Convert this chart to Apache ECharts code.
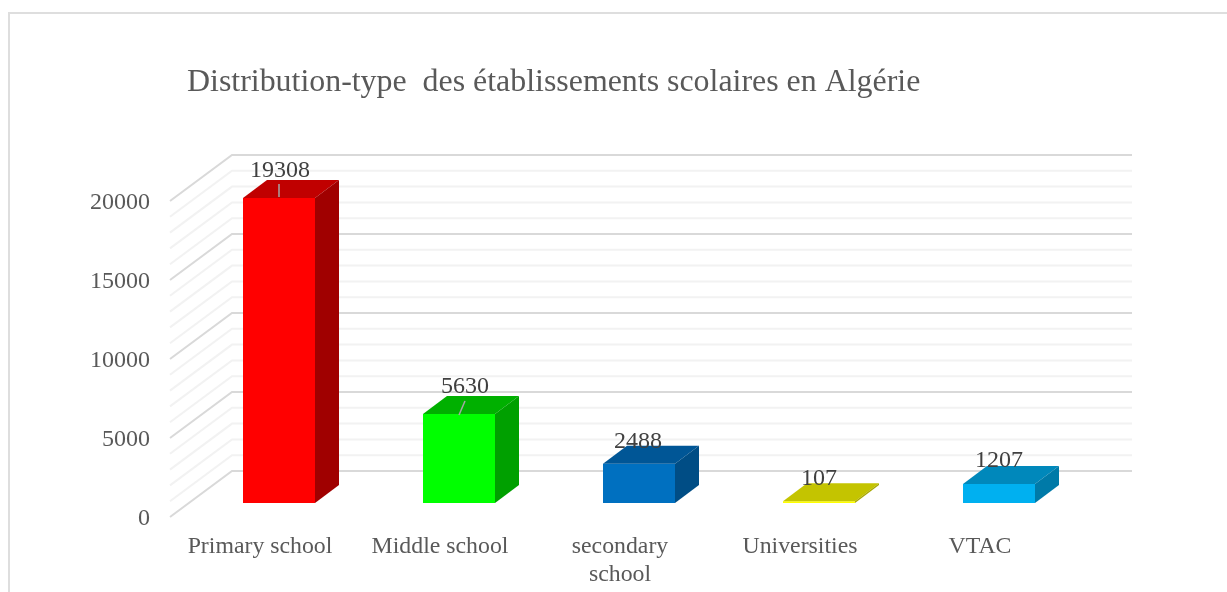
<!DOCTYPE html>
<html><head><meta charset="utf-8">
<style>html,body{margin:0;padding:0;background:#fff}#c{width:1227px;height:592px}</style>
<script src="https://cdn.jsdelivr.net/npm/echarts@6/dist/echarts.min.js"></script>
</head><body><div id="c"></div>
<script>
const categories = ['Primary school', 'Middle school', 'secondary\nschool', 'Universities', 'VTAC'];
const values = [19308, 5630, 2488, 107, 1207];
const gridValues = [0,1000,2000,3000,4000,5000,6000,7000,8000,9000,10000,11000,12000,13000,14000,15000,16000,17000,18000,19000,20000];
const frontColors = ['#ff0000','#00ff00','#0070c0','#ffff00','#00b0f0'];
const topColors = ['#c00000','#00b000','#005696','#c4c400','#0088bb'];
const sideColors = ['#a00000','#00a000','#004d85','#a8a800','#007aa8'];
const labelShift = [[1,-27],[6,-27],[-1,-22],[0,-23],[0,-23]];
const leaders = [[0,-1,0,-14],[0,1,6,-13],null,null,null];

const SERIF = '"Liberation Serif","Times New Roman",serif';
const WALL = {dx:62, dy:-46};
const FLOOR = {dx:19, dy:-14};
const BAR = {dx:24, dy:-18};

const chart = echarts.init(document.getElementById('c'), null, {renderer:'canvas'});
chart.setOption({
  animation:false,
  backgroundColor:'#fff',
  title:{text:'Distribution-type  des établissements scolaires en Algérie',left:187,top:67,padding:0,
    textStyle:{fontFamily:SERIF,fontSize:31.9,fontWeight:'normal',color:'#595959'}},
  graphic:[{type:'rect',shape:{x:9,y:13,width:1300,height:700},silent:true,
    style:{fill:'none',stroke:'#dedede',lineWidth:2}}],
  grid:{left:170,top:201,width:900,height:316},
  xAxis:{type:'category',data:categories,axisLine:{show:false},axisTick:{show:false},splitLine:{show:false},
    axisLabel:{fontFamily:SERIF,fontSize:23.8,color:'#595959',margin:16,lineHeight:28,interval:0}},
  yAxis:{type:'value',min:0,max:20000,interval:5000,axisLine:{show:false},axisTick:{show:false},splitLine:{show:false},
    axisLabel:{margin:20,formatter:v=>'{n|'+v+'}',
      rich:{n:{fontFamily:SERIF,fontSize:24,color:'#595959',padding:[4,0,0,0]}}}},
  series:[
    {type:'custom',silent:true,z:1,coordinateSystem:'cartesian2d',
     encode:{y:0},data:gridValues.map(v=>[v]),
     renderItem(params,api){
       const v=api.value(0);
       const p=api.coord([0,v]);
       const x0=params.coordSys.x, w=params.coordSys.width;
       const major=v%5000===0;
       return {type:'polyline',shape:{points:[[x0,p[1]],[x0+WALL.dx,p[1]+WALL.dy],[x0+WALL.dx+w,p[1]+WALL.dy]]},
         style:{fill:'none',stroke:major?'#d9d9d9':'#f2f2f2',lineWidth:2}};
     }},
    {type:'custom',silent:true,z:2,coordinateSystem:'cartesian2d',
     encode:{x:0,y:1},data:values.map((v,i)=>[i,v]),
     renderItem(params,api){
       const i=api.value(0), v=api.value(1);
       const top=api.coord([i,v]), base=api.coord([i,0]);
       const bw=api.size([1,0])[0]*0.4;
       const xl=top[0]+FLOOR.dx-bw/2, xr=xl+bw;
       const yt=top[1]+FLOOR.dy, yb=base[1]+FLOOR.dy;
       const kids=[
         {type:'polygon',shape:{points:[[xl,yb],[xr,yb],[xr,yt],[xl,yt]]},style:{fill:frontColors[i]}},
         {type:'polygon',shape:{points:[[xl,yt],[xr,yt],[xr+BAR.dx,yt+BAR.dy],[xl+BAR.dx,yt+BAR.dy]]},style:{fill:topColors[i]}},
         {type:'polygon',shape:{points:[[xr,yt],[xr,yb],[xr+BAR.dx,yb+BAR.dy],[xr+BAR.dx,yt+BAR.dy]]},style:{fill:sideColors[i]}}
       ];
       const cx=(xl+xr)/2;
       if(leaders[i]){const L=leaders[i];
         kids.push({type:'line',shape:{x1:cx+L[0],y1:yt+L[1],x2:cx+L[2],y2:yt+L[3]},style:{stroke:'#a6a6a6',lineWidth:1.5}});}
       kids.push({type:'text',style:{text:String(v),x:cx+labelShift[i][0],y:yt+labelShift[i][1],align:'center',verticalAlign:'middle',
         fontFamily:SERIF,fontSize:24,fill:'#404040'}});
       return {type:'group',children:kids};
     }}
  ]
});
</script></body></html>
